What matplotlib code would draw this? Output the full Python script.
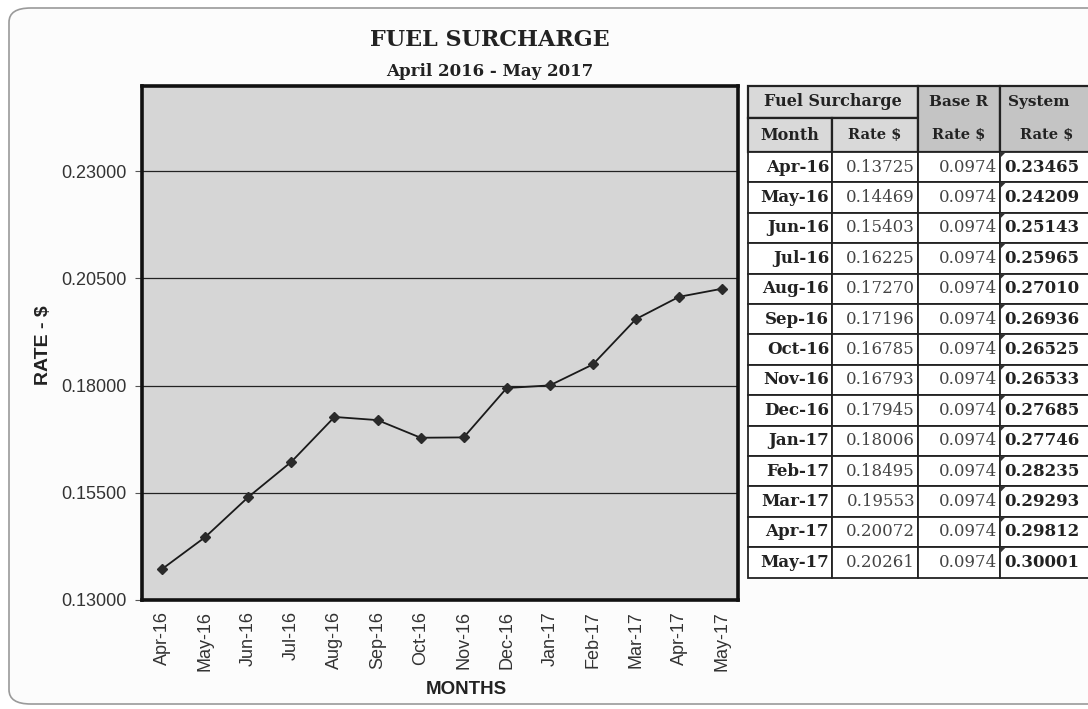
import matplotlib
matplotlib.use("Agg")
import matplotlib.pyplot as plt
from matplotlib.patches import Rectangle, FancyBboxPatch, Polygon

months = ["Apr-16", "May-16", "Jun-16", "Jul-16", "Aug-16", "Sep-16", "Oct-16",
          "Nov-16", "Dec-16", "Jan-17", "Feb-17", "Mar-17", "Apr-17", "May-17"]
fuel_rate = [0.13725, 0.14469, 0.15403, 0.16225, 0.17270, 0.17196, 0.16785,
             0.16793, 0.17945, 0.18006, 0.18495, 0.19553, 0.20072, 0.20261]
base_rate = [0.0974] * 14
system_rate = [0.23465, 0.24209, 0.25143, 0.25965, 0.27010, 0.26936, 0.26525,
               0.26533, 0.27685, 0.27746, 0.28235, 0.29293, 0.29812, 0.30001]
y_ticks = [0.13, 0.155, 0.18, 0.205, 0.23]

W, H = 1088, 709
fig = plt.figure(figsize=(W / 100, H / 100), dpi=100)
fig.patch.set_facecolor("white")


def fx(px):
    return px / W


def fy(py):
    return 1 - py / H


# rounded frame around everything
frame = FancyBboxPatch((fx(9), fy(704)), fx(1120), 696 / H,
                       boxstyle="round,pad=0,rounding_size=0.02",
                       transform=fig.transFigure, facecolor="#fcfcfc",
                       edgecolor="#9a9a9a", linewidth=1.2, zorder=-10)
fig.add_artist(frame)

serif = "DejaVu Serif"
sans = "Liberation Sans"

fig.text(fx(490), fy(40), "FUEL SURCHARGE", ha="center", va="center",
         family=serif, fontsize=16, color="#222222", fontweight="bold")
fig.text(fx(490), fy(72), "April 2016 - May 2017", ha="center", va="center",
         family=serif, fontsize=12, color="#222222", fontweight="bold")

# chart
ax = fig.add_axes([fx(142), fy(600), fx(596), (600 - 86) / H])
ax.set_facecolor("#d6d6d6")
x = list(range(len(months)))
ax.plot(x, fuel_rate, color="#1a1a1a", linewidth=1.3, marker="D",
        markersize=5, markerfacecolor="#2a2a2a", markeredgecolor="#2a2a2a")
ax.set_xlim(-0.47, len(months) - 0.63)
ax.set_ylim(0.13, 0.2499)
ax.set_yticks(y_ticks)
ax.set_yticklabels([f"{v:.5f}" for v in y_ticks], family=sans, fontsize=13,
                   color="#333333")
ax.set_xticks(x)
ax.set_xticklabels(months, rotation=90, family=sans, fontsize=13,
                   color="#333333")
ax.grid(True, axis="y", color="#222222", linewidth=0.9)
ax.set_axisbelow(True)
for s in ax.spines.values():
    s.set_linewidth(2.6)
    s.set_color("#111111")
ax.tick_params(axis="y", length=5, width=0.8, color="#555555", pad=6)
ax.tick_params(axis="x", length=0, pad=8)

fig.text(fx(44), fy(345), "RATE - $", rotation=90, ha="center", va="center",
         family=sans, fontsize=14, fontweight="bold", color="#222222")
fig.text(fx(466), fy(690), "MONTHS", ha="center", va="center",
         family=sans, fontsize=13.5, fontweight="bold", color="#222222")

# table on the right
cols = [748, 832, 918, 1000, 1110]
h_top, h_mid, h_bot = 86, 118, 152
row_h = 30.4


def cell(x0, y0, x1, y1, face, lw=1.0):
    fig.add_artist(Rectangle((fx(x0), fy(y1)), fx(x1 - x0), (y1 - y0) / H,
                             transform=fig.transFigure, facecolor=face,
                             edgecolor="#222222", linewidth=lw))


def ctext(xc, yc, s, weight="normal", color="#222222", ha="center", size=11):
    fig.text(fx(xc), fy(yc), s, ha=ha, va="center", family=serif,
             fontsize=size, fontweight=weight, color=color)


light = "#d9d9d9"
dark = "#c4c4c4"
cell(cols[0], h_top, cols[2], h_mid, light, 1.6)
cell(cols[0], h_mid, cols[1], h_bot, light, 1.6)
cell(cols[1], h_mid, cols[2], h_bot, light, 1.6)
cell(cols[2], h_top, cols[3], h_bot, dark, 1.6)
cell(cols[3], h_top, cols[4], h_bot, dark, 1.6)

ctext((cols[0] + cols[2]) / 2, (h_top + h_mid) / 2, "Fuel Surcharge", "bold", size=11.5)
ctext((cols[0] + cols[1]) / 2, (h_mid + h_bot) / 2, "Month", "bold", size=11.5)
ctext((cols[1] + cols[2]) / 2, (h_mid + h_bot) / 2, "Rate $", "bold", size=10.5)
ctext((cols[2] + cols[3]) / 2, (h_top + h_mid) / 2, "Base R", "bold", size=11)
ctext((cols[2] + cols[3]) / 2, (h_mid + h_bot) / 2, "Rate $", "bold", size=10.5)
ctext(cols[3] + 8, (h_top + h_mid) / 2, "System", "bold", ha="left", size=11)
ctext(cols[3] + 20, (h_mid + h_bot) / 2, "Rate $", "bold", ha="left", size=10.5)

for i, m in enumerate(months):
    y0 = h_bot + i * row_h
    y1 = y0 + row_h
    for c in range(4):
        cell(cols[c], y0, cols[c + 1], y1, "white", 1.3)
    yc = (y0 + y1) / 2
    ctext(cols[1] - 3, yc, m, "bold", ha="right", size=12)
    ctext(cols[2] - 3, yc, f"{fuel_rate[i]:.5f}", color="#444444", ha="right", size=12)
    ctext(cols[3] - 3, yc, f"{base_rate[i]:.4f}", color="#444444", ha="right", size=12)
    ctext(cols[3] + 4, yc, f"{system_rate[i]:.5f}", "bold", ha="left", size=12)
    tri = Polygon([(fx(cols[3]), fy(y0)), (fx(cols[3] + 6), fy(y0)),
                   (fx(cols[3]), fy(y0 + 6))], closed=True,
                  transform=fig.transFigure, facecolor="#333333", edgecolor="none")
    fig.add_artist(tri)

fig.savefig("out.png", dpi=100)
